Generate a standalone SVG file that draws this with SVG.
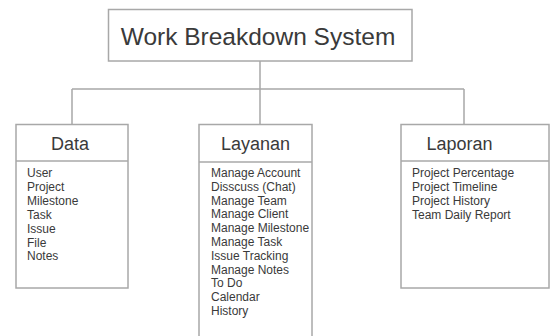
<svg xmlns="http://www.w3.org/2000/svg" width="555" height="336" viewBox="0 0 555 336">
<style>
.box{fill:#fff;stroke:#a8a8a8;stroke-width:1.5}
.sep{stroke:#a8a8a8;stroke-width:1.5}
.conn{fill:none;stroke:#a8a8a8;stroke-width:1.5}
.title{font-family:"Liberation Sans",Arial,sans-serif;font-size:18px;fill:#3a3a3a;text-anchor:middle}
.main{font-family:"Liberation Sans",Arial,sans-serif;font-size:24.5px;fill:#3a3a3a;text-anchor:middle}
.item{font-family:"Liberation Sans",Arial,sans-serif;font-size:12px;fill:#3a3a3a}
</style>
<rect width="555" height="336" fill="#fff"/>
<g id="connectors">
<path class="conn" d="M260,61 V89 M72,89 H464 M72,89 V124 M260,89 V124 M464,89 V124"/>
</g>
<g id="root">
<rect class="box" x="108.5" y="9.5" width="303.5" height="51.5"/>
<text class="main" x="258" y="45">Work Breakdown System</text>
</g>
<g id="data">
<rect class="box" x="16" y="124.5" width="112" height="163.5"/>
<line class="sep" x1="16" y1="161" x2="128" y2="161"/>
<text class="title" x="70" y="150">Data</text>
<text class="item" x="27" y="177">User</text>
<text class="item" x="27" y="190.9">Project</text>
<text class="item" x="27" y="204.8">Milestone</text>
<text class="item" x="27" y="218.7">Task</text>
<text class="item" x="27" y="232.6">Issue</text>
<text class="item" x="27" y="246.5">File</text>
<text class="item" x="27" y="260.4">Notes</text>
</g>
<g id="layanan">
<rect class="box" x="199" y="124.5" width="113" height="220"/>
<line class="sep" x1="199" y1="162" x2="312" y2="162"/>
<text class="title" x="255.5" y="150">Layanan</text>
<text class="item" x="211" y="177">Manage Account</text>
<text class="item" x="211" y="190.8">Disscuss (Chat)</text>
<text class="item" x="211" y="204.6">Manage Team</text>
<text class="item" x="211" y="218.4">Manage Client</text>
<text class="item" x="211" y="232.2">Manage Milestone</text>
<text class="item" x="211" y="246">Manage Task</text>
<text class="item" x="211" y="259.8">Issue Tracking</text>
<text class="item" x="211" y="273.6">Manage Notes</text>
<text class="item" x="211" y="287.4">To Do</text>
<text class="item" x="211" y="301.2">Calendar</text>
<text class="item" x="211" y="315">History</text>
</g>
<g id="laporan">
<rect class="box" x="401" y="124.5" width="148" height="163.5"/>
<line class="sep" x1="401" y1="161" x2="549" y2="161"/>
<text class="title" x="459.5" y="150">Laporan</text>
<text class="item" x="412" y="177">Project Percentage</text>
<text class="item" x="412" y="190.9">Project Timeline</text>
<text class="item" x="412" y="204.8">Project History</text>
<text class="item" x="412" y="218.7">Team Daily Report</text>
</g>
</svg>
